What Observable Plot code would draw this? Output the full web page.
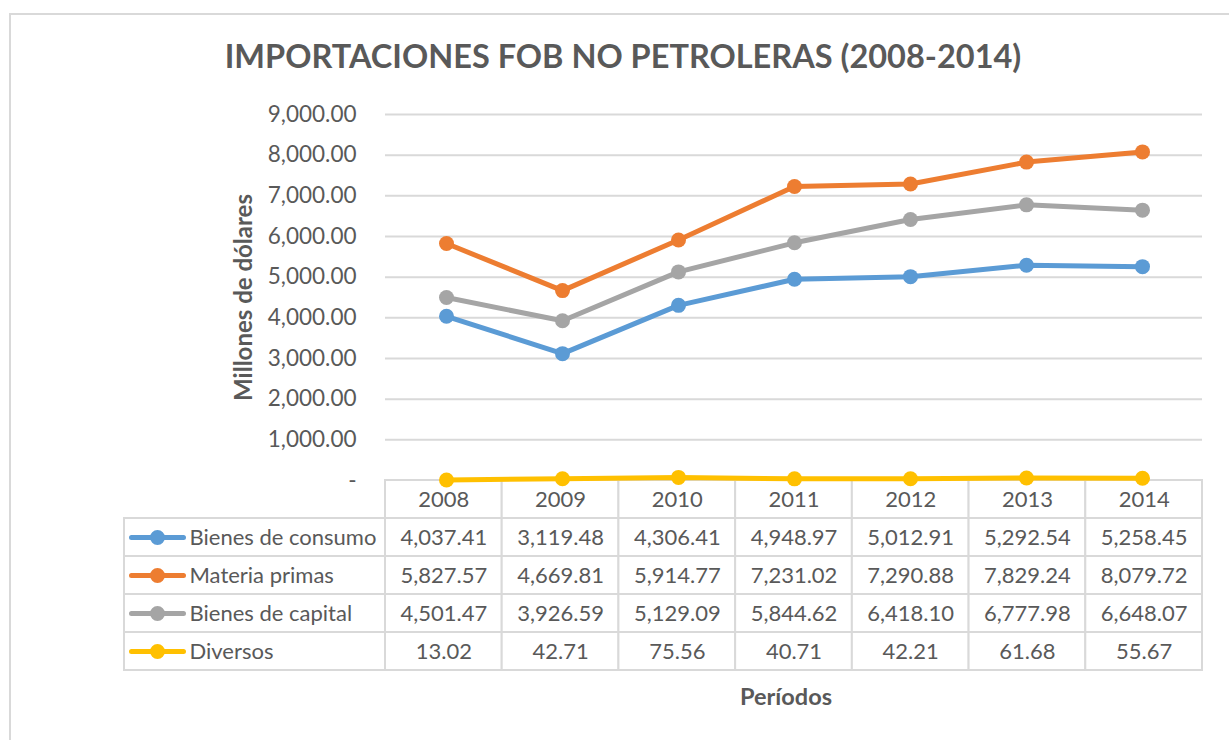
<!DOCTYPE html>
<html>
<head>
<meta charset="utf-8">
<script src="https://cdn.jsdelivr.net/npm/d3@7"></script>
<script src="https://cdn.jsdelivr.net/npm/@observablehq/plot@0.6"></script>
<style>
  html, body { margin: 0; padding: 0; background: #fff; overflow: hidden; }
  #wrap { position: relative; width: 1229px; height: 740px; background: #fff; font-family: Lato, "Open Sans", sans-serif; color: #595959; overflow: hidden; }
  #frame { position: absolute; left: 9px; top: 13px; width: 1300px; height: 800px; border: 2px solid #d9d9d9; box-sizing: border-box; }
  #title { position: absolute; left: 123px; width: 1000px; top: 40px; text-align: center; font-size: 32.5px; line-height: 32px; font-weight: bold; white-space: nowrap; }
  #xlabel { position: absolute; left: 686px; width: 200px; top: 685px; text-align: center; font-size: 23.5px; line-height: 22px; font-weight: bold; }
  #table, #chart { position: absolute; left: 0; }
  #table { top: 479px; }
  #chart { top: 0; }
  svg { overflow: visible; }
</style>
</head>
<body>
<div id="wrap">
  <div id="frame"></div>
  <div id="title">IMPORTACIONES FOB NO PETROLERAS (2008-2014)</div>
  <div id="table"></div>
  <div id="chart"></div>
  <div id="xlabel">Períodos</div>
</div>
<script>
// ---- data ----
const years = ["2008", "2009", "2010", "2011", "2012", "2013", "2014"];
const seriesNames = ["Bienes de consumo", "Materia primas", "Bienes de capital", "Diversos"];
const bienesConsumo = [4037.41, 3119.48, 4306.41, 4948.97, 5012.91, 5292.54, 5258.45];
const materiaPrimas = [5827.57, 4669.81, 5914.77, 7231.02, 7290.88, 7829.24, 8079.72];
const bienesCapital = [4501.47, 3926.59, 5129.09, 5844.62, 6418.10, 6777.98, 6648.07];
const diversos = [13.02, 42.71, 75.56, 40.71, 42.21, 61.68, 55.67];
const seriesColors = ["#5B9BD5", "#ED7D31", "#A5A5A5", "#FFC000"];
const yTicks = [0, 1000, 2000, 3000, 4000, 5000, 6000, 7000, 8000, 9000];

// ---- layout ----
const W = 1229;
const plotLeft = 385, plotRight = 1202, tableLeft = 124;
const plotTop = 114, plotBottom = 480;
const colW = (plotRight - plotLeft) / years.length;
const labelSpan = (plotLeft - tableLeft) / colW;
const textColor = "#595959";
const gridColor = "#d9d9d9";
const fmt = d3.format(",.2f");

const seriesValues = [bienesConsumo, materiaPrimas, bienesCapital, diversos];
const long = [];
seriesNames.forEach((name, s) => {
  years.forEach((yr, i) => long.push({series: name, year: yr, value: seriesValues[s][i]}));
});

// ---- chart ----
const chart = Plot.plot({
  width: W,
  height: plotBottom + 1,
  marginTop: plotTop,
  marginBottom: 1,
  marginLeft: plotLeft,
  marginRight: W - plotRight,
  style: {fontFamily: "Lato, 'Open Sans', sans-serif", color: textColor, background: "transparent", overflow: "visible"},
  x: {type: "point", domain: years, padding: 0.5, axis: null},
  y: {domain: [0, 9000], axis: null},
  color: {domain: seriesNames, range: seriesColors},
  marks: [
    Plot.gridY(yTicks.filter(t => t > 0), {stroke: gridColor, strokeOpacity: 1, strokeWidth: 2}),
    Plot.axisY(yTicks, {tickSize: 0, tickPadding: 29, fontSize: 22.5, label: null,
      tickFormat: d => d === 0 ? "-" : fmt(d)}),
    Plot.text(["Millones de dólares"], {frameAnchor: "left", textAnchor: "middle", dx: -141, rotate: -90,
      fontWeight: "bold", fontSize: 24, fill: textColor}),
    Plot.line(long, {x: "year", y: "value", z: "series", stroke: "series", strokeWidth: 5,
      strokeLinejoin: "round", curve: "linear"}),
    Plot.dot(long, {x: "year", y: "value", fill: "series", r: 7.5})
  ]
});
document.getElementById("chart").append(chart);

// ---- data table ----
const cells = [];
years.forEach((yr, i) => cells.push({row: "header", c0: i, c1: i + 1, text: yr}));
seriesNames.forEach((name, s) => {
  cells.push({row: name, c0: -labelSpan, c1: 0, text: ""});
  years.forEach((yr, i) => cells.push({row: name, c0: i, c1: i + 1, text: fmt(seriesValues[s][i])}));
});

const swatch = {
  draw(ctx) {
    ctx.moveTo(-26, 0); ctx.lineTo(26, 0);
    ctx.moveTo(5, 0); ctx.arc(0, 0, 5, 0, 2 * Math.PI);
  }
};

const table = Plot.plot({
  width: W,
  height: 192,
  marginTop: 1,
  marginBottom: 1,
  marginLeft: tableLeft,
  marginRight: W - plotRight,
  style: {fontFamily: "Lato, 'Open Sans', sans-serif", color: textColor, background: "transparent", overflow: "visible"},
  x: {domain: [-labelSpan, years.length], axis: null},
  y: {type: "band", domain: ["header", ...seriesNames], padding: 0, axis: null},
  color: {domain: seriesNames, range: seriesColors},
  marks: [
    Plot.barX(cells, {x1: "c0", x2: "c1", y: "row", fill: "white", stroke: gridColor, strokeWidth: 2}),
    Plot.text(cells, {x: d => (d.c0 + d.c1) / 2, y: "row", text: "text", fontSize: 22, fill: textColor}),
    Plot.text(seriesNames, {x: () => -labelSpan, y: d => d, text: d => d, textAnchor: "start", dx: 65,
      fontSize: 22, fill: textColor}),
    Plot.dot(seriesNames, {x: () => -labelSpan, y: d => d, dx: 33, symbol: swatch,
      fill: d => d, stroke: d => d, strokeWidth: 5, strokeLinecap: "round"})
  ]
});
document.getElementById("table").append(table);
</script>
</body>
</html>
